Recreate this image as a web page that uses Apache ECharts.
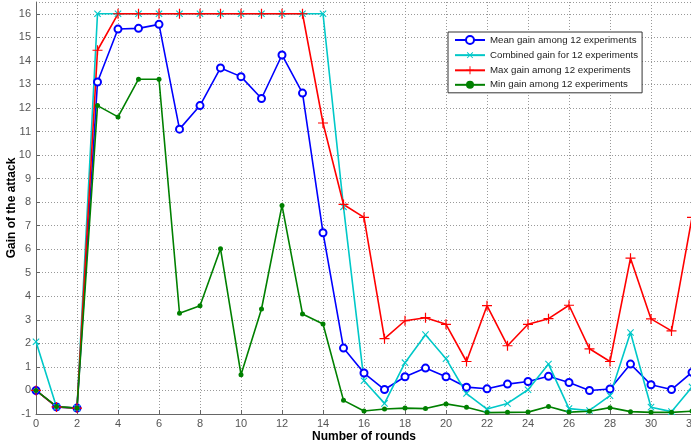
<!DOCTYPE html>
<html>
<head>
<meta charset="utf-8">
<script src="https://cdn.jsdelivr.net/npm/echarts@6/dist/echarts.min.js"></script>
<style>html,body{margin:0;padding:0;background:#fff}#c{width:691px;height:445px}</style>
</head>
<body>
<div id="c"></div>
<script>
const rounds = [0,1,2,3,4,5,6,7,8,9,10,11,12,13,14,15,16,17,18,19,20,21,22,23,24,25,26,27,28,29,30,31,32];
const meanGain = [0,-0.7,-0.75,13.1,15.35,15.38,15.55,11.1,12.1,13.7,13.33,12.4,14.25,12.63,6.7,1.8,0.74,0.04,0.58,0.95,0.58,0.14,0.07,0.27,0.38,0.6,0.34,0,0.06,1.12,0.24,0.04,0.77];
const combinedGain = [2.07,-0.7,-0.75,16,16,16,16,16,16,16,16,16,16,16,16,7.8,0.41,-0.55,1.18,2.37,1.35,-0.13,-0.79,-0.55,0.03,1.12,-0.77,-0.85,-0.22,2.46,-0.71,-0.9,0.15];
const maxGain = [0,-0.7,-0.75,14.45,16,16,16,16,16,16,16,16,16,16,11.36,7.9,7.35,2.2,2.96,3.09,2.81,1.23,3.6,1.9,2.81,3.05,3.62,1.77,1.23,5.62,3.04,2.53,7.35];
const minGain = [0,-0.68,-0.75,12.1,11.62,13.22,13.22,3.28,3.6,6.02,0.67,3.46,7.86,3.25,2.82,-0.42,-0.87,-0.79,-0.75,-0.77,-0.57,-0.71,-0.94,-0.93,-0.92,-0.68,-0.92,-0.88,-0.73,-0.9,-0.93,-0.93,-0.88];
const seriesNames = ['Mean gain among 12 experiments','Combined gain for 12 experiments','Max gain among 12 experiments','Min gain among 12 experiments'];

const plusPath = 'path://M4.4,0 H5.6 V4.4 H10 V5.6 H5.6 V10 H4.4 V5.6 H0 V4.4 H4.4 Z';
const pairs = vals => rounds.map((r, i) => [r, vals[i]]);

const chart = echarts.init(document.getElementById('c'), null, {renderer: 'canvas'});
const gridLine = {show: true, lineStyle: {color: '#999', type: [1, 2], width: 1}};
chart.setOption({
  animation: false,
  backgroundColor: '#fff',
  grid: {left: 36, right: -1, top: 2, bottom: 31, containLabel: false, outerBoundsMode: 'none'},
  legend: {
    orient: 'vertical', left: 448, top: 32,
    backgroundColor: '#fff', borderColor: '#333', borderWidth: 1,
    padding: [3, 4, 3, 6], itemGap: 4.5, itemWidth: 30, itemHeight: 10,
    textStyle: {fontFamily: 'Liberation Sans, Arial, sans-serif', fontSize: 9.7, color: '#222'},
    data: seriesNames
  },
  xAxis: {
    type: 'value', min: 0, max: 32, interval: 2,
    name: 'Number of rounds', nameLocation: 'middle', nameGap: 17, nameMoveOverlap: false,
    nameTextStyle: {fontFamily: 'Liberation Sans, Arial, sans-serif', fontSize: 12, fontWeight: 'bold', color: '#000'},
    axisLine: {onZero: false, lineStyle: {color: '#666'}},
    axisTick: {inside: true, length: 4, lineStyle: {color: '#666'}},
    axisLabel: {fontFamily: 'Liberation Sans, Arial, sans-serif', fontSize: 11, color: '#555', margin: 4},
    splitLine: gridLine
  },
  yAxis: {
    type: 'value', min: -1, max: 16.5, interval: 1,
    name: 'Gain of the attack', nameLocation: 'middle', nameGap: 18, nameMoveOverlap: false,
    nameTextStyle: {fontFamily: 'Liberation Sans, Arial, sans-serif', fontSize: 12, fontWeight: 'bold', color: '#000'},
    axisLine: {show: true, onZero: false, lineStyle: {color: '#666'}},
    axisTick: {show: true, inside: true, length: 4, lineStyle: {color: '#666'}},
    axisLabel: {fontFamily: 'Liberation Sans, Arial, sans-serif', fontSize: 11, color: '#555', margin: 5, showMaxLabel: false,
      formatter: v => (Number.isInteger(v) ? String(v) : '')},
    splitLine: gridLine
  },
  series: [
    {name: seriesNames[0], type: 'line', data: pairs(meanGain), symbol: 'emptyCircle', symbolSize: 7,
      lineStyle: {color: '#0000ff', width: 1.6}, itemStyle: {color: '#0000ff', borderColor: '#0000ff', borderWidth: 1.2}},
    {name: seriesNames[1], type: 'line', data: pairs(combinedGain), symbol: plusPath, symbolRotate: 45, symbolSize: 9,
      lineStyle: {color: '#00c8c8', width: 1.6}, itemStyle: {color: '#00c8c8', borderWidth: 0}},
    {name: seriesNames[2], type: 'line', data: pairs(maxGain), symbol: plusPath, symbolSize: 10,
      lineStyle: {color: '#ff0000', width: 1.6}, itemStyle: {color: '#ff0000', borderWidth: 0}},
    {name: seriesNames[3], type: 'line', data: pairs(minGain), symbol: 'circle', symbolSize: 5,
      lineStyle: {color: '#008000', width: 1.6}, itemStyle: {color: '#008000', borderWidth: 0}}
  ]
});
</script>
</body>
</html>
